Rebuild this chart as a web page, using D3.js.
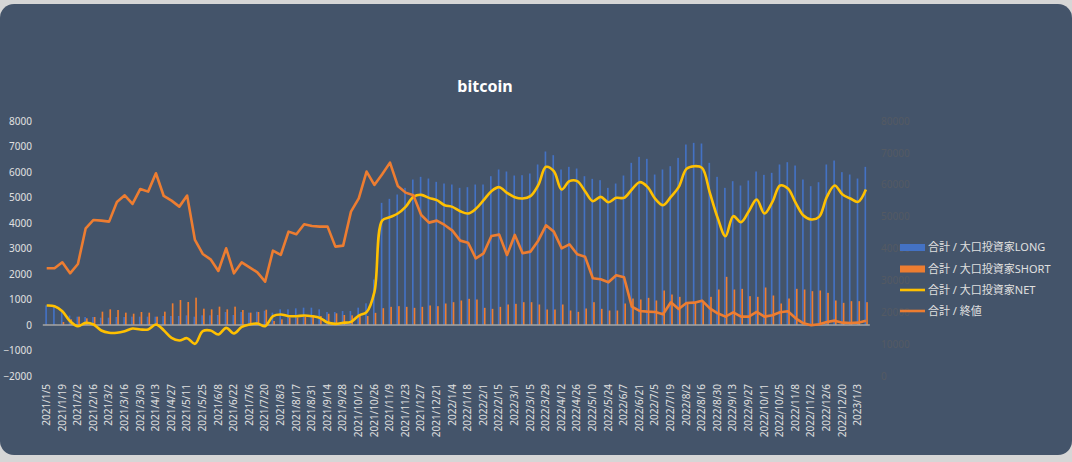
<!DOCTYPE html>
<html><head><meta charset="utf-8">
<script src="https://cdn.jsdelivr.net/npm/d3@7"></script>
<style>
html,body{margin:0;padding:0;background:#d6d6d6;}
svg{display:block;}
</style></head>
<body>
<svg id="chart" width="1072" height="462"></svg>
<script>
const dates = [
"2021/1/5","2021/1/12","2021/1/19","2021/1/26","2021/2/2","2021/2/9","2021/2/16","2021/2/23","2021/3/2","2021/3/9","2021/3/16","2021/3/23","2021/3/30","2021/4/6","2021/4/13","2021/4/20","2021/4/27","2021/5/4","2021/5/11","2021/5/18","2021/5/25","2021/6/1","2021/6/8","2021/6/15","2021/6/22","2021/6/29","2021/7/6","2021/7/13","2021/7/20","2021/7/27","2021/8/3","2021/8/10","2021/8/17","2021/8/24","2021/8/31","2021/9/7","2021/9/14","2021/9/21","2021/9/28","2021/10/5","2021/10/12","2021/10/19","2021/10/26","2021/11/2","2021/11/9","2021/11/16","2021/11/23","2021/11/30","2021/12/7","2021/12/14","2021/12/21","2021/12/28",
"2022/1/4","2022/1/11","2022/1/18","2022/1/25","2022/2/1","2022/2/8","2022/2/15","2022/2/22","2022/3/1","2022/3/8","2022/3/15","2022/3/22","2022/3/29","2022/4/5","2022/4/12","2022/4/19","2022/4/26","2022/5/3","2022/5/10","2022/5/17","2022/5/24","2022/5/31","2022/6/7","2022/6/14","2022/6/21","2022/6/28","2022/7/5","2022/7/12","2022/7/19","2022/7/26","2022/8/2","2022/8/9","2022/8/16","2022/8/23","2022/8/30","2022/9/6","2022/9/13","2022/9/20","2022/9/27","2022/10/4","2022/10/11","2022/10/18","2022/10/25","2022/11/1","2022/11/8","2022/11/15","2022/11/22","2022/11/29","2022/12/6","2022/12/13","2022/12/20","2022/12/27",
"2023/1/3","2023/1/10"];

const longVals = [770,745,590,370,327,314,314,288,288,314,314,327,327,327,327,353,353,353,379,327,379,379,392,510,392,510,484,523,560,484,614,614,653,680,680,614,510,510,549,549,680,850,1784,4790,4947,5117,5378,5705,5810,5744,5614,5548,5509,5378,5405,5509,5509,5836,6098,6019,5862,5875,5941,6294,6804,6660,6098,6202,6137,5836,5731,5679,5378,5548,5862,6359,6594,6516,5901,6098,6228,6555,7078,7143,7117,6359,5810,5378,5640,5470,5666,6019,5888,5967,6294,6385,6254,5705,5444,5600,6294,6450,5993,5901,5744,6202];

const shortVals = [10,10,118,222,327,261,314,523,614,588,484,444,510,484,327,523,850,980,902,1072,640,614,719,614,719,588,484,510,600,157,222,288,288,314,353,353,440,458,392,379,353,353,477,660,712,738,712,673,712,765,738,843,895,961,1026,1000,673,634,712,804,830,895,895,804,608,608,804,568,516,647,895,634,568,568,843,1039,1000,1065,961,1353,1196,1104,895,895,935,1104,1392,1889,1392,1418,1131,1104,1470,1157,843,1039,1418,1392,1327,1353,1261,961,869,935,935,895];

const netVals = [765,738,542,150,-46,85,20,-216,-307,-307,-242,-137,-176,-176,20,-203,-503,-608,-516,-738,-242,-216,-373,-111,-333,-72,20,59,-46,346,412,346,346,372,346,281,95,46,85,124,372,503,1287,4097,4228,4372,4633,5025,5104,4986,4895,4699,4633,4463,4372,4555,4895,5248,5405,5182,5012,4960,5052,5483,6202,6032,5313,5640,5640,5248,4856,5025,4816,4986,4986,5313,5601,5418,4947,4699,5025,5405,6124,6228,6163,5182,4202,3483,4267,4032,4463,4921,4372,4816,5470,5352,4790,4294,4137,4241,5025,5470,5117,4960,4830,5313];

const closeVals = [33786,33786,35669,32217,35146,46338,48953,48744,48430,54601,56693,53974,58681,57844,63597,56484,55020,53137,56589,42677,38284,36610,32949,40062,32217,35669,34100,32531,29602,39330,37970,45292,44456,47594,47071,46862,46862,40585,40899,51568,55752,64120,59936,63283,66944,59622,57530,56693,50522,48116,48744,47384,45606,42468,41840,36924,38493,43932,44350,37970,44246,38493,39016,42468,47280,45292,40062,41317,38179,37447,30648,30334,29392,31589,30961,21757,20397,20188,20083,19351,23117,21025,22907,23012,23640,21234,19665,18619,19979,18619,18619,20083,18619,19037,19979,20292,18096,16527,15899,16213,16945,17364,16736,16631,16736,17364];

const leftTicks = [-2000,-1000,0,1000,2000,3000,4000,5000,6000,7000,8000];
const rightTicks = [0,10000,20000,30000,40000,50000,60000,70000,80000];
const titleText = "bitcoin";
const seriesNames = ["合計 / 大口投資家LONG","合計 / 大口投資家SHORT","合計 / 大口投資家NET","合計 / 終値"];
const colors = {long:"#4472C4", short:"#ED7D31", net:"#FFC000", close:"#ED7D31"};

const svg = d3.select("#chart");
const font = "'Noto Sans','Noto Sans CJK JP',sans-serif";

svg.append("rect").attr("x",0).attr("y",4).attr("width",1072).attr("height",451)
  .attr("rx",14).attr("ry",14).attr("fill","#44546A");

svg.append("text").attr("x",485).attr("y",92).attr("text-anchor","middle")
  .attr("fill","#ffffff").attr("font-family",font).attr("font-weight","bold")
  .attr("font-size",16).text(titleText);

const x = d3.scaleBand().domain(dates).range([42.8, 869.8]).padding(0);
const yL = d3.scaleLinear().domain([-2000, 8000]).range([376, 121]);
const yR = d3.scaleLinear().domain([0, 80000]).range([376, 121]);
const bw = x.bandwidth();

// left axis
const gL = svg.append("g").attr("transform","translate(34,0)")
  .call(d3.axisLeft(yL).tickValues(leftTicks).tickSize(0).tickPadding(2).tickFormat(d3.format("d")));
gL.select(".domain").remove();
gL.selectAll("text").attr("fill","#e0e0e0").attr("font-family",font).attr("font-size",10);

// right axis
const gR = svg.append("g").attr("transform","translate(879,0)")
  .call(d3.axisRight(yR).tickValues(rightTicks).tickSize(0).tickPadding(2).tickFormat(d3.format("d")));
gR.select(".domain").remove();
gR.selectAll("text").attr("fill","#545a63").attr("font-family",font).attr("font-size",10);

// bars
const idx = d3.range(dates.length);
svg.append("g").selectAll("rect").data(idx).join("rect")
  .attr("x", i => x(dates[i]) + bw*0.32)
  .attr("width", bw*0.21)
  .attr("y", i => yL(Math.max(0,longVals[i])))
  .attr("height", i => Math.abs(yL(longVals[i]) - yL(0)))
  .attr("fill", colors.long);
svg.append("g").selectAll("rect").data(idx).join("rect")
  .attr("x", i => x(dates[i]) + bw*0.54)
  .attr("width", bw*0.21)
  .attr("y", i => yL(Math.max(0,shortVals[i])))
  .attr("height", i => Math.abs(yL(shortVals[i]) - yL(0)))
  .attr("fill", colors.short);

// zero line
svg.append("line").attr("x1",x.range()[0]).attr("x2",x.range()[1])
  .attr("y1",yL(0)).attr("y2",yL(0)).attr("stroke","#a6a6a6").attr("stroke-width",1.5);

// x axis labels
const gX = svg.append("g").attr("transform",`translate(0,${yL(-2000)})`)
  .call(d3.axisBottom(x).tickValues(dates.filter((d,i)=>i%2===0)).tickSize(0).tickPadding(0));
gX.select(".domain").remove();
gX.selectAll("text").attr("fill","#e0e0e0").attr("font-family",font).attr("font-size",10)
  .attr("text-anchor","end").attr("transform","translate(0,8) rotate(-90)")
  .attr("dy","0.32em").attr("dx","0").attr("y",0).attr("x",0);

// lines
const cx = i => x(dates[i]) + bw/2;
const netLine = d3.line().x(cx).y(i => yL(netVals[i])).curve(d3.curveCatmullRom.alpha(0.5));
svg.append("path").datum(idx).attr("d", netLine).attr("fill","none")
  .attr("stroke", colors.net).attr("stroke-width",2.6).attr("stroke-linejoin","round");
const closeLine = d3.line().x(cx).y(i => yR(closeVals[i]));
svg.append("path").datum(idx).attr("d", closeLine).attr("fill","none")
  .attr("stroke", colors.close).attr("stroke-width",2.6).attr("stroke-linejoin","round");

// legend
const lg = svg.append("g").attr("transform","translate(900,0)");
const rows = [247.5, 269, 290, 311];
seriesNames.forEach((name, k) => {
  const y = rows[k];
  if (k < 2) {
    lg.append("rect").attr("x",0).attr("y",y-3.5).attr("width",25).attr("height",7)
      .attr("fill", k===0 ? colors.long : colors.short);
  } else {
    lg.append("line").attr("x1",0).attr("x2",25).attr("y1",y).attr("y2",y)
      .attr("stroke", k===2 ? colors.net : colors.close).attr("stroke-width",2.6);
  }
  lg.append("text").attr("x",28).attr("y",y).attr("dy","0.35em")
    .attr("fill","#e0e0e0").attr("font-family",font).attr("font-size",11).text(name);
});
</script>
</body></html>
